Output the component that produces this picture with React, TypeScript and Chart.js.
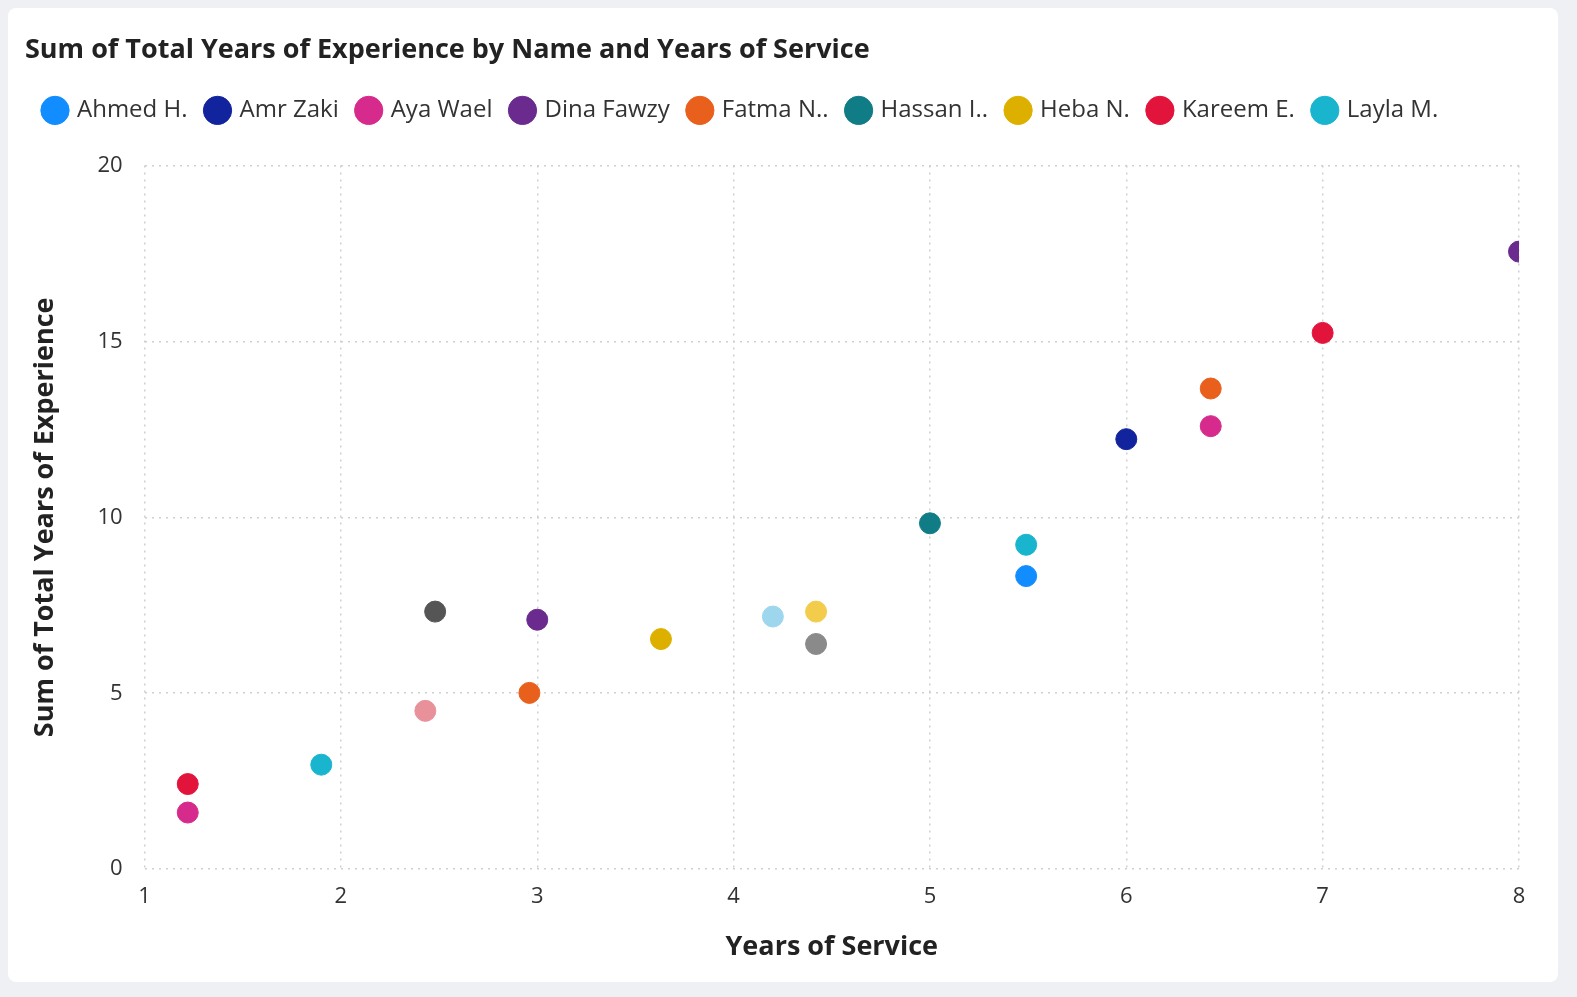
import { useEffect, useRef } from "react";
import { Chart, registerables } from "chart.js";

Chart.register(...registerables);

// series: [years of service, sum of total years of experience]
const names = ["Ahmed H.", "Amr Zaki", "Aya Wael", "Dina Fawzy", "Fatma N..", "Hassan I..", "Heba N.", "Kareem E.", "Layla M.", "Other 1", "Other 2", "Other 3", "Other 4", "Other 5"];
const colors = ["#118DFF", "#12239E", "#D62A8C", "#6B2A8E", "#E8601C", "#0F7C86", "#DDB000", "#E3143C", "#19B5CF", "#555555", "#E8919B", "#9ED6EE", "#F2CC4A", "#8A8A8A"];
const xs: number[][] = [[5.49], [6.0], [1.22, 6.43], [3.0, 8.0], [2.96, 6.43], [5.0], [3.63], [1.22, 7.0], [1.9, 5.49], [2.48], [2.43], [4.2], [4.42], [4.42]];
const ys: number[][] = [[8.33], [12.22], [1.61, 12.59], [7.09, 17.55], [5.01, 13.66], [9.83], [6.54], [2.42, 15.24], [2.97, 9.22], [7.32], [4.5], [7.18], [7.32], [6.4]];
const legendCount = 9;
const xTicks = [1, 2, 3, 4, 5, 6, 7, 8];
const yTicks = [0, 5, 10, 15, 20];

const font = "'Open Sans', 'Noto Sans', sans-serif";

const App = () => {
  const ref = useRef<HTMLCanvasElement | null>(null);

  useEffect(() => {
    if (!ref.current) return;
    const chart = new Chart(ref.current, {
      type: "scatter",
      data: {
        datasets: names.map((n, i) => ({
          label: n,
          data: xs[i].map((x, j) => ({ x, y: ys[i][j] })),
          backgroundColor: colors[i],
          borderColor: colors[i],
          pointRadius: 10.5,
        })),
      },
      options: {
        animation: false,
        responsive: true,
        maintainAspectRatio: false,
        layout: { padding: { left: 5, right: 27, top: 8, bottom: 4 } },
        plugins: {
          tooltip: { enabled: false },
          title: {
            display: true,
            text: "Sum of Total Years of Experience by Name and Years of Service",
            align: "start",
            color: "#222",
            font: { family: font, size: 27, weight: "bold" },
            padding: { top: 8, bottom: 12 },
          },
          legend: {
            align: "start",
            labels: {
              filter: (item) => (item.datasetIndex ?? 0) < legendCount,
              usePointStyle: true,
              pointStyle: "circle",
              boxWidth: 20,
              boxHeight: 20,
              padding: 20,
              color: "#333",
              font: { family: font, size: 24 },
            },
          },
        },
        scales: {
          x: {
            type: "linear",
            min: 1,
            max: 8,
            afterBuildTicks: (s) => { s.ticks = xTicks.map((v) => ({ value: v })); },
            grid: { color: "#cfcfcf", lineWidth: 1.5, drawTicks: false },
            border: { display: false, dash: [2, 5] },
            ticks: { color: "#333", padding: 14, font: { family: font, size: 22 } },
            title: { display: true, text: "Years of Service", color: "#222", font: { family: font, size: 27, weight: "bold" }, padding: { top: 8 } },
          },
          y: {
            min: 0,
            max: 20,
            afterBuildTicks: (s) => { s.ticks = yTicks.map((v) => ({ value: v })); },
            grid: { color: "#cfcfcf", lineWidth: 1.5, drawTicks: false },
            border: { display: false, dash: [2, 5] },
            ticks: { color: "#333", padding: 22, font: { family: font, size: 22 } },
            title: { display: true, text: "Sum of Total Years of Experience", color: "#222", font: { family: font, size: 27, weight: "bold" }, padding: { bottom: 14 } },
          },
        },
      },
      plugins: [{
        id: "legendGap",
        beforeInit(c: any) {
          const fit = c.legend.fit;
          c.legend.fit = function () { fit.bind(c.legend)(); this.height += 33; };
        },
      }],
    });
    return () => chart.destroy();
  }, []);

  return (
    <div style={{ position: "fixed", inset: 0, background: "#eef0f3" }}>
      <div style={{ position: "absolute", left: 8, top: 8, width: 1550, height: 974, background: "#fff", borderRadius: 8, padding: "10px 12px", boxSizing: "border-box" }}>
        <canvas ref={ref}></canvas>
      </div>
    </div>
  );
};

export default App;
